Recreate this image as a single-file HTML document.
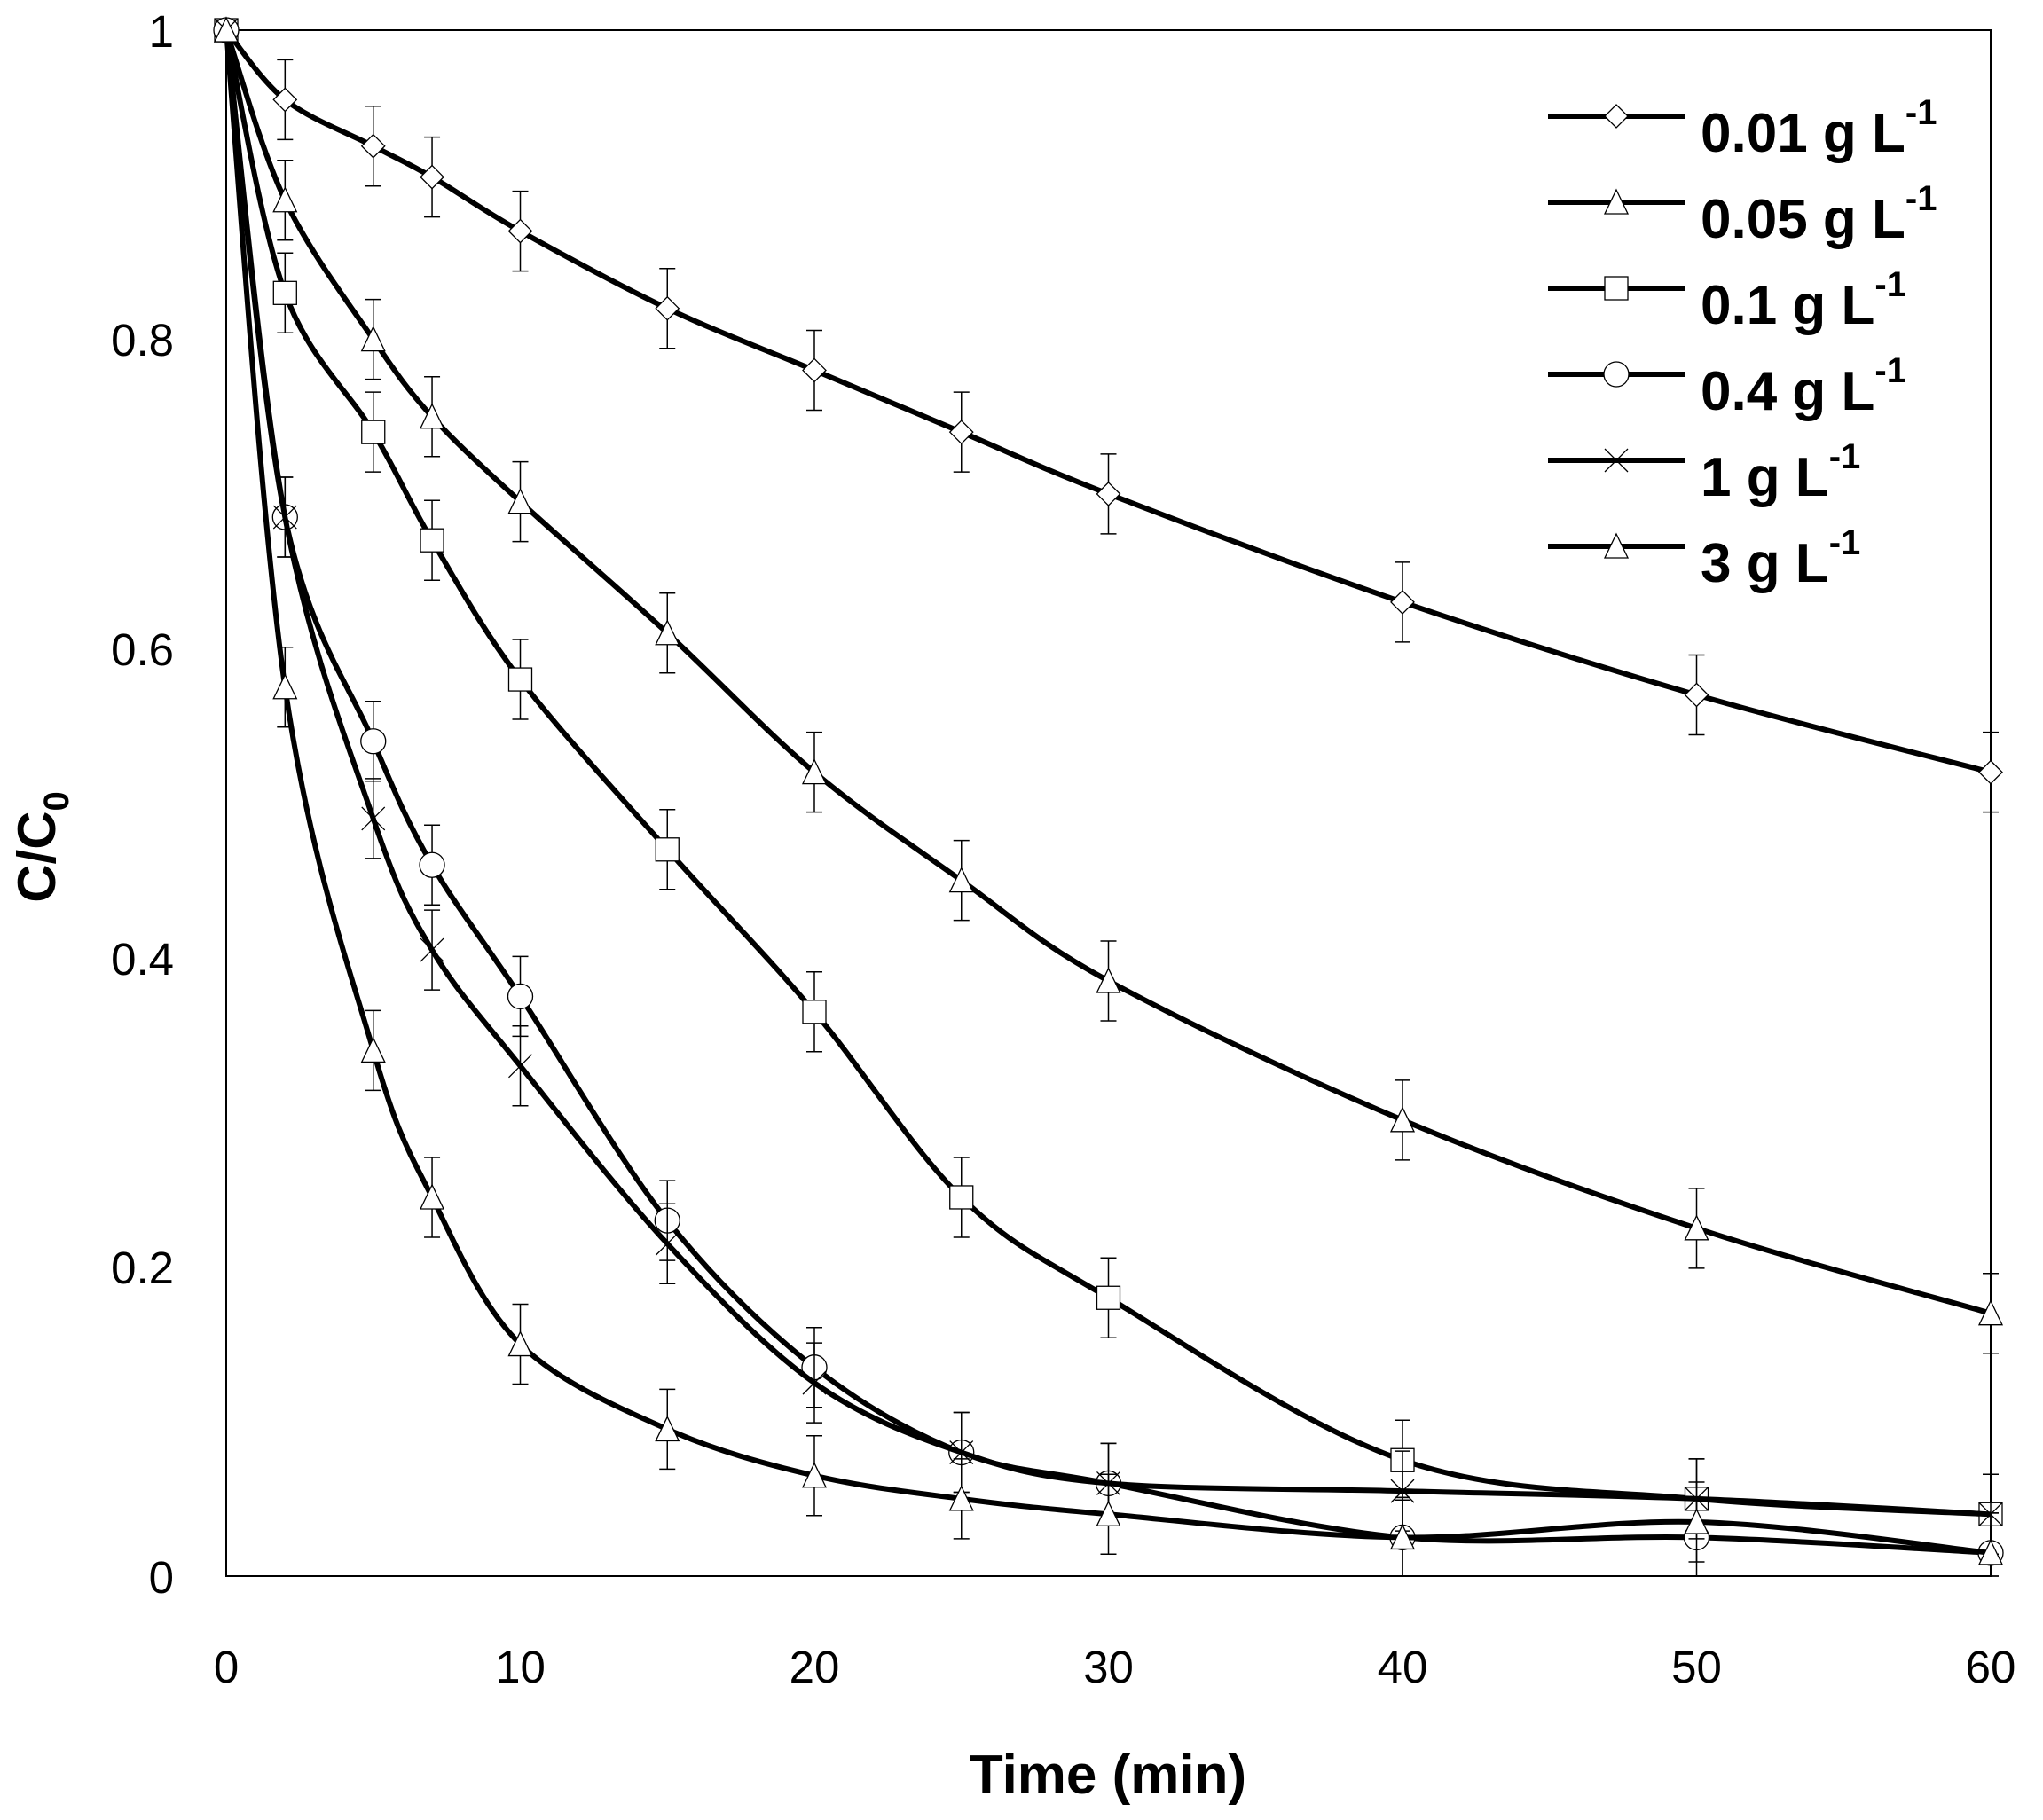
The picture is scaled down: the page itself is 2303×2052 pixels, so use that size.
<!DOCTYPE html>
<html><head><meta charset="utf-8"><style>
html,body{margin:0;padding:0;background:#fff;}
svg{display:block;font-family:"Liberation Sans",Arial,sans-serif;}
</style></head><body>
<svg id="s" width="2303" height="2052" viewBox="0 0 2303 2052" xmlns="http://www.w3.org/2000/svg">
<rect x="0" y="0" width="2303" height="2052" fill="#fff"/>
<rect x="255" y="34" width="1989" height="1743" fill="none" stroke="#000" stroke-width="2"/>
<g font-size="51" text-anchor="end" fill="#000">
<text x="196" y="1796">0</text>
<text x="196" y="1447">0.2</text>
<text x="196" y="1099">0.4</text>
<text x="196" y="750">0.6</text>
<text x="196" y="401">0.8</text>
<text x="196" y="53">1</text>
</g>
<g font-size="51" text-anchor="middle" fill="#000">
<text x="255" y="1897">0</text>
<text x="586.5" y="1897">10</text>
<text x="918" y="1897">20</text>
<text x="1249.5" y="1897">30</text>
<text x="1581" y="1897">40</text>
<text x="1912.5" y="1897">50</text>
<text x="2244" y="1897">60</text>
</g>
<text x="1249" y="2022" font-size="62" font-weight="bold" text-anchor="middle">Time (min)</text>
<text transform="translate(62,955) rotate(-90)" font-size="60" font-weight="bold" text-anchor="middle">C/C<tspan font-size="40" dy="15">0</tspan></text>
<g font-size="62" font-weight="bold">
<text x="1917" y="171">0.01 g L<tspan font-size="40" dy="-31">-1</tspan></text>
<text x="1917" y="268">0.05 g L<tspan font-size="40" dy="-31">-1</tspan></text>
<text x="1917" y="365">0.1 g L<tspan font-size="40" dy="-31">-1</tspan></text>
<text x="1917" y="462">0.4 g L<tspan font-size="40" dy="-31">-1</tspan></text>
<text x="1917" y="559">1 g L<tspan font-size="40" dy="-31">-1</tspan></text>
<text x="1917" y="656">3 g L<tspan font-size="40" dy="-31">-1</tspan></text>
</g>
<g id="g"></g>
</svg>
<script>
var X=function(t){return 255+t*1989/60},Y=function(v){return 1777-v*1743};
var T=[0,2,5,7,10,15,20,25,30,40,50,60];
var S=[
[[1,.955,.925,.905,.87,.82,.78,.74,.70,.63,.57,.52],'d'],
[[1,.89,.80,.75,.695,.61,.52,.45,.385,.295,.225,.17],'t'],
[[1,.83,.74,.67,.58,.47,.365,.245,.18,.075,.05,.04],'s'],
[[1,.685,.54,.46,.375,.23,.135,.08,.06,.025,.025,.015],'o'],
[[1,.685,.49,.405,.33,.215,.125,.08,.06,.055,.05,.04],'x'],
[[1,.575,.34,.245,.15,.095,.065,.05,.04,.025,.035,.015],'t']];
var h='';
function mk(x,y,m){var r=13;
if(m=='d')return '<path d="M'+x+' '+(y-r)+'L'+(x+r)+' '+y+'L'+x+' '+(y+r)+'L'+(x-r)+' '+y+'Z" fill="#fff" stroke="#000" stroke-width="1.3"/>';
if(m=='t')return '<path d="M'+x+' '+(y-r-1)+'L'+(x+r)+' '+(y+r)+'L'+(x-r)+' '+(y+r)+'Z" fill="#fff" stroke="#000" stroke-width="1.3"/>';
if(m=='s')return '<rect x="'+(x-r)+'" y="'+(y-r)+'" width="'+2*r+'" height="'+2*r+'" fill="#fff" stroke="#000" stroke-width="1.3"/>';
if(m=='o')return '<circle cx="'+x+'" cy="'+y+'" r="'+(r+1)+'" fill="#fff" stroke="#000" stroke-width="1.3"/>';
return '<path d="M'+(x-r)+' '+(y-r)+'L'+(x+r)+' '+(y+r)+'M'+(x+r)+' '+(y-r)+'L'+(x-r)+' '+(y+r)+'" stroke="#000" stroke-width="1.3"/>';}
S.forEach(function(s){var v=s[0],p=T.map(function(t,i){return [X(t),Y(v[i])]});
var d='M'+p[0][0]+' '+p[0][1];
for(var i=0;i<p.length-1;i++){var p0=p[i-1]||p[i],p1=p[i],p2=p[i+1],p3=p[i+2]||p2;
d+='C'+(p1[0]+(p2[0]-p0[0])/6)+' '+(p1[1]+(p2[1]-p0[1])/6)+' '+(p2[0]-(p3[0]-p1[0])/6)+' '+(p2[1]-(p3[1]-p1[1])/6)+' '+p2[0]+' '+p2[1];}
h+='<path d="'+d+'" fill="none" stroke="#000" stroke-width="6"/>';
p.forEach(function(q,i){if(i==0)return;var e=45;var y1=Math.max(q[1]-e,34),y2=Math.min(q[1]+e,1777);
h+='<path d="M'+q[0]+' '+y1+'V'+y2+'M'+(q[0]-9)+' '+y1+'H'+(q[0]+9)+'M'+(q[0]-9)+' '+y2+'H'+(q[0]+9)+'" stroke="#000" stroke-width="1.5"/>';});
p.forEach(function(q){h+=mk(q[0],q[1],s[1]);});});
var L=['d','t','s','o','x','t'];
L.forEach(function(m,i){var y=131+i*97;h+='<path d="M1745 '+y+'H1900" stroke="#000" stroke-width="6"/>'+mk(1822,y,m);});
document.getElementById('g').innerHTML=h;
</script>
</body></html>
